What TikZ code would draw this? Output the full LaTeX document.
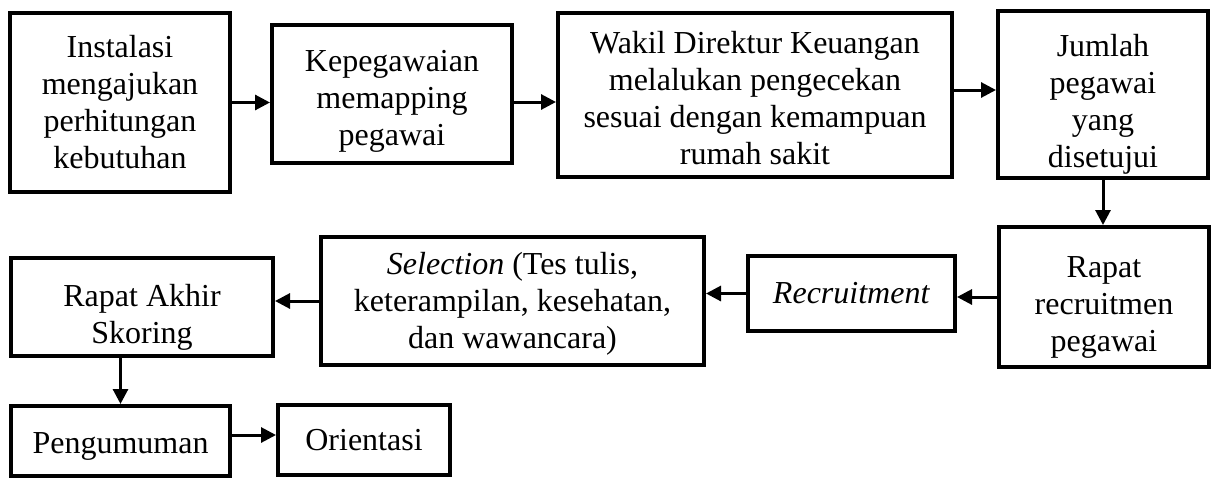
\documentclass[tikz,border=0pt]{standalone}
\usepackage{fontspec}
\setmainfont{Liberation Serif}
\usetikzlibrary{arrows.meta,calc,positioning}
\newcommand{\turun}[1]{\rule{0pt}{#1}}
\tikzset{
  kotak/.style={
    draw=black,
    line width=2pt,
    align=center,
    inner sep=2pt,
    font=\fontsize{16}{18.5}\selectfont
  },
  arrow/.style={
    -{Triangle[length=7.5pt,width=7.5pt]},
    line width=1.5pt
  }
}

\begin{document}
\begin{tikzpicture}[x=0.5pt,y=-0.5pt]
\useasboundingbox (0,0) rectangle (1211,477);
% baris atas
\node[kotak,minimum width=110pt,minimum height=89.5pt] (inst) at (120,102.5) {Instalasi\\mengajukan\\perhitungan\\kebutuhan};
\node[kotak,minimum width=120pt,minimum height=69pt] (map) at (392,94) {\turun{18pt}Kepegawaian\\memapping\\pegawai};
\node[kotak,minimum width=197pt,minimum height=82pt] (wadir) at (755,95) {\turun{14pt}Wakil Direktur Keuangan\\melalukan pengecekan\\sesuai dengan kemampuan\\rumah sakit};
\node[kotak,minimum width=105pt,minimum height=82.5pt] (jumlah) at (1103,94.5) {\turun{21pt}Jumlah\\pegawai\\yang\\disetujui};
% baris tengah
\node[kotak,minimum width=105pt,minimum height=70pt] (rapat) at (1104,297) {\turun{21pt}Rapat\\recruitmen\\pegawai};
\node[kotak,minimum width=103.5pt,minimum height=37.5pt] (recruit) at (851.5,293.5) {\textit{Recruitment}};
\node[kotak,minimum width=191.5pt,minimum height=64pt] (seleksi) at (512.5,301) {\turun{14pt}\textit{Selection} (Tes tulis,\\keterampilan, kesehatan,\\dan wawancara)};
\node[kotak,minimum width=131pt,minimum height=49pt] (akhir) at (142,307) {\turun{21pt}Rapat Akhir\\Skoring};
% baris bawah
\node[kotak,minimum width=109.5pt,minimum height=35pt] (umum) at (120.5,441) {\turun{16pt}Pengumuman};
\node[kotak,minimum width=86pt,minimum height=35pt] (orient) at (364,440) {Orientasi};
% panah
\draw[arrow] (inst.east) -- (inst.east -| map.west);
\draw[arrow] ([yshift=-4pt]map.east) -- ([yshift=-4pt]map.east -| wadir.west);
\draw[arrow] ([yshift=2.5pt]wadir.east) -- ([yshift=2.5pt]wadir.east -| jumlah.west);
\draw[arrow] (jumlah.south) -- (jumlah.south |- rapat.north);
\draw[arrow] (rapat.west) -- (rapat.west -| recruit.east);
\draw[arrow] (recruit.west) -- (recruit.west -| seleksi.east);
\draw[arrow] (seleksi.west) -- (seleksi.west -| akhir.east);
\draw[arrow] (umum.north |- akhir.south) -- (umum.north);
\draw[arrow] ([yshift=3pt]umum.east) -- ([yshift=3pt]umum.east -| orient.west);
\end{tikzpicture}
\end{document}
